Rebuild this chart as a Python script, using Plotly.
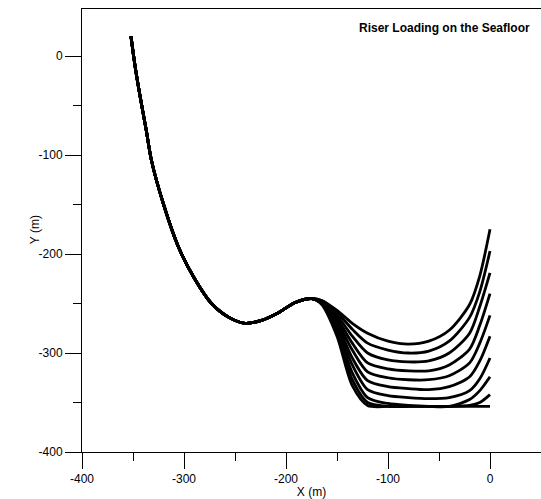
import plotly.graph_objects as go

# Common upper part of the riser (shared by all load cases)
riser_x = [-352, -348, -343, -337, -332, -320, -305, -289, -273, -256, -240, -224, -207, -191, -175]
riser_y = [20, -10, -41, -75, -105, -150, -194, -226, -250, -264, -270, -267, -259, -249, -245]

# Lower part near the seafloor, one y-list per case (top to bottom)
tail_x = [-165, -150, -135, -120, -100, -80, -60, -40, -20, -10, 0]
tail_y1 = [-247, -257, -270, -280, -288, -291, -288, -277, -251, -222, -175]
tail_y2 = [-247, -259, -276, -290, -297, -300, -298, -288, -264, -238, -197]
tail_y3 = [-248, -262, -283, -300, -307, -309, -308, -300, -280, -253, -219]
tail_y4 = [-248, -265, -290, -310, -316, -318, -318, -312, -296, -272, -240]
tail_y5 = [-249, -268, -297, -319, -325, -327, -327, -323, -310, -290, -262]
tail_y6 = [-249, -271, -305, -328, -334, -336, -337, -334, -324, -308, -283]
tail_y7 = [-250, -274, -312, -337, -343, -345, -346, -345, -338, -326, -305]
tail_y8 = [-250, -277, -320, -345, -351, -353, -354, -354, -347, -338, -324]
tail_y9 = [-250, -280, -327, -350, -354, -354, -354, -354, -353, -350, -342]
tail_y10 = [-251, -283, -333, -353, -354, -354, -354, -354, -354, -354, -354]

tails = [tail_y1, tail_y2, tail_y3, tail_y4, tail_y5, tail_y6, tail_y7, tail_y8, tail_y9, tail_y10]

x_ticks = [-400, -300, -200, -100, 0]
x_labels = ["-400", "-300", "-200", "-100", "0"]
y_ticks = [-400, -300, -200, -100, 0]
y_labels = ["-400", "-300", "-200", "-100", "0"]

FONT = "Liberation Sans, Arial, sans-serif"

fig = go.Figure()
for ty in tails:
    fig.add_trace(go.Scatter(
        x=riser_x + tail_x, y=riser_y + ty,
        mode="lines", line=dict(color="black", width=2.8, shape="spline", smoothing=0.8),
        showlegend=False, hoverinfo="skip"))

axis_common = dict(
    showgrid=False, zeroline=False, showline=True, linecolor="black", linewidth=1,
    ticks="outside", ticklen=16, tickwidth=1, tickcolor="black",
    tickfont=dict(family=FONT, size=12, color="black"),
)

fig.update_layout(
    width=541, height=499,
    margin=dict(l=82, r=0, t=9, b=47),
    paper_bgcolor="white", plot_bgcolor="white",
    font=dict(family=FONT, color="black"),
    xaxis=dict(range=[-400, 50], tickvals=x_ticks, ticktext=x_labels, mirror=True,
               minor=dict(dtick=50, ticklen=8, ticks="outside", tickcolor="black"),
               title=dict(text="X (m)", font=dict(family=FONT, size=12), standoff=2),
               **axis_common),
    yaxis=dict(range=[-400, 47.5], tickvals=y_ticks, ticktext=y_labels,
               minor=dict(dtick=50, ticklen=8, ticks="outside", tickcolor="black"),
               **axis_common),
    annotations=[
        dict(text="<b>Riser Loading on the Seafloor</b>", xref="paper", yref="paper",
             x=0.98, y=0.956, xanchor="right", yanchor="middle", showarrow=False,
             font=dict(family=FONT, size=12, color="black")),
        dict(text="Y (m)", xref="paper", yref="paper", x=-0.1024, y=0.503,
             xanchor="center", yanchor="middle", textangle=-90, showarrow=False,
             font=dict(family=FONT, size=12, color="black")),
    ],
)

fig.write_html("out.html")
